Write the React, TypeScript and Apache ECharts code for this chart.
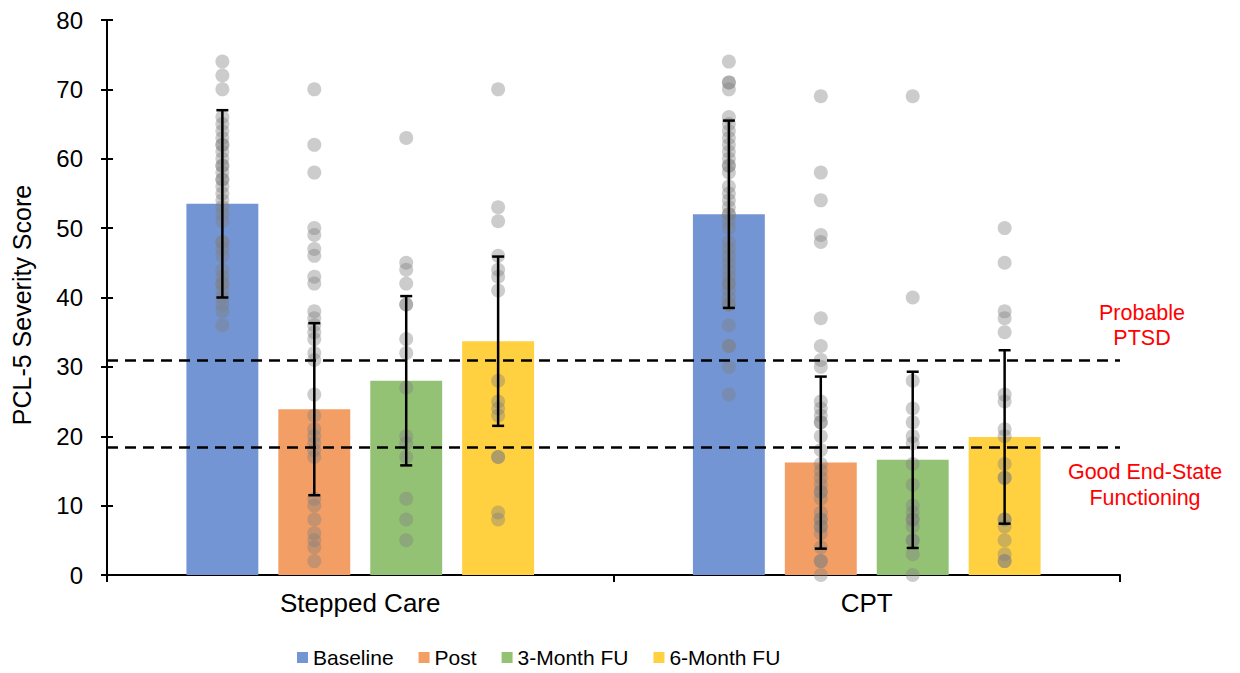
import React, { useEffect, useRef } from "react";
import * as echarts from "echarts";

// Treatment arms and assessment points
const groups = ["Stepped Care", "CPT"];
const phases = ["Baseline", "Post", "3-Month FU", "6-Month FU"];
const phaseColors = ["#7395D3", "#F29E65", "#94C275", "#FFD040"];

// Group means (bar heights) and standard deviations (error bars), per phase
const meanStepped = [53.5, 23.9, 28.0, 33.7];
const sdStepped = [13.5, 12.4, 12.2, 12.2];
const meanCPT = [52.0, 16.2, 16.6, 19.9];
const sdCPT = [13.5, 12.4, 12.7, 12.5];

// Individual participant scores
const steppedBaseline = [74, 72, 70, 66, 65, 64, 63, 62, 62, 61, 60, 59, 59, 58, 57, 57, 56, 55, 54, 53, 52, 51, 48, 48, 47, 46, 44, 43, 42, 42, 41, 40, 39, 38, 36];
const steppedPost = [70, 62, 58, 50, 49, 47, 46, 43, 42, 38, 37, 36, 35, 34, 32, 31, 26, 23, 21, 20, 19, 18, 17, 11, 10, 8, 6, 5, 4, 2];
const stepped3Month = [63, 45, 44, 42, 39, 39, 34, 32, 27, 20, 19, 17, 11, 8, 5];
const stepped6Month = [70, 53, 51, 46, 44, 43, 41, 28, 25, 24, 23, 17, 17, 9, 8];
const cptBaseline = [74, 71, 71, 70, 66, 65, 64, 63, 62, 61, 60, 59, 59, 58, 56, 55, 54, 53, 52, 52, 51, 50, 48, 47, 46, 45, 44, 43, 42, 42, 41, 40, 39, 39, 36, 33, 33, 30, 26];
const cptPost = [69, 58, 54, 49, 48, 37, 33, 31, 30, 25, 24, 23, 22, 22, 20, 18, 16, 15, 14, 13, 12, 12, 11, 9, 8, 8, 7, 7, 6, 4, 2, 2, 0];
const cpt3Month = [69, 40, 28, 24, 22, 20, 19, 16, 13, 10, 9, 8, 8, 7, 5, 5, 3, 0];
const cpt6Month = [50, 45, 38, 37, 35, 26, 25, 21, 20, 16, 14, 14, 8, 8, 7, 5, 3, 2, 2];

// Clinical cut-offs
const probablePTSD = 31;
const goodEndState = 18.4;

// Y axis ticks
const yMin = 0;
const yMax = 80;
const yStep = 10;

// Bar layout as fractions of a category band
const BAR_FRACTION = 0.142;
const GAP_RATIO = 0.278;

const scoresByGroup = [
  [steppedBaseline, steppedPost, stepped3Month, stepped6Month],
  [cptBaseline, cptPost, cpt3Month, cpt6Month],
];
const meansByGroup = [meanStepped, meanCPT];
const sdsByGroup = [sdStepped, sdCPT];

// Offset of each bar centre from its category centre, in band units
function barOffset(i: number): number {
  const n = phases.length;
  const gap = BAR_FRACTION * GAP_RATIO;
  const total = n * BAR_FRACTION + (n - 1) * gap;
  return -total / 2 + BAR_FRACTION / 2 + i * (BAR_FRACTION + gap);
}

const FONT = "'Liberation Sans', Arial, sans-serif";

export default function App() {
  const ref = useRef<HTMLDivElement>(null);

  useEffect(() => {
    if (!ref.current) return;
    const chart = echarts.init(ref.current, undefined, { renderer: "svg" });

    const barSeries = phases.map((name, i) => ({
      name,
      type: "bar",
      xAxisIndex: 0,
      yAxisIndex: 0,
      data: groups.map((_, g) => meansByGroup[g][i]),
      barWidth: `${BAR_FRACTION * 100}%`,
      barGap: `${GAP_RATIO * 100}%`,
      itemStyle: { color: phaseColors[i] },
      z: 2,
    }));

    const dots: number[][] = [];
    const bars: number[][] = [];
    groups.forEach((_, g) => {
      phases.forEach((__, i) => {
        const x = g + 0.5 + barOffset(i);
        scoresByGroup[g][i].forEach((v) => dots.push([x, v]));
        const m = meansByGroup[g][i];
        const s = sdsByGroup[g][i];
        bars.push([x, m - s, m + s]);
      });
    });

    const option = {
      animation: false,
      textStyle: { fontFamily: FONT },
      grid: { left: 107, right: 120, top: 20, bottom: 98, containLabel: false },
      legend: {
        data: phases,
        left: 297,
        top: 647,
        padding: 0,
        icon: "rect",
        itemWidth: 11,
        itemHeight: 11,
        itemGap: 25,
        textStyle: { fontSize: 21, color: "#000", fontFamily: FONT },
      },
      xAxis: [
        {
          type: "category",
          data: groups,
          axisLine: { show: true, lineStyle: { color: "#000", width: 2 } },
          axisTick: { show: true, length: 7, lineStyle: { color: "#000", width: 2 } },
          axisLabel: { fontSize: 26, color: "#000", margin: 15, fontFamily: FONT },
          splitLine: { show: false },
        },
        {
          type: "value",
          min: 0,
          max: groups.length,
          show: false,
        },
      ],
      yAxis: [
        {
          type: "value",
          min: yMin,
          max: yMax,
          interval: yStep,
          axisLine: { show: true, lineStyle: { color: "#000", width: 2 } },
          axisTick: { show: true, length: 6, inside: false, lineStyle: { color: "#000", width: 2 } },
          axisLabel: { fontSize: 24, color: "#000", margin: 24, fontFamily: FONT },
          splitLine: { show: false },
        },
        {
          type: "value",
          min: yMin,
          max: yMax,
          interval: yStep,
          position: "left",
          axisLine: { show: true, lineStyle: { color: "#000", width: 2 } },
          axisTick: { show: true, length: 6, inside: true, lineStyle: { color: "#000", width: 2 } },
          axisLabel: { show: false },
          splitLine: { show: false },
        },
      ],
      graphic: [
        {
          type: "text",
          x: 22,
          y: 305,
          rotation: Math.PI / 2,
          style: {
            text: "PCL-5 Severity Score",
            fontSize: 25,
            fontFamily: FONT,
            fill: "#000",
            align: "center",
            verticalAlign: "middle",
          },
        },
        {
          type: "text",
          x: 1142,
          y: 325,
          style: {
            text: "Probable\nPTSD",
            fontSize: 21.5,
            lineHeight: 25,
            fontFamily: FONT,
            fill: "#FF0000",
            align: "center",
            verticalAlign: "middle",
          },
        },
        {
          type: "text",
          x: 1145,
          y: 485,
          style: {
            text: "Good End-State\nFunctioning",
            fontSize: 21.5,
            lineHeight: 26,
            fontFamily: FONT,
            fill: "#FF0000",
            align: "center",
            verticalAlign: "middle",
          },
        },
      ],
      series: [
        ...barSeries,
        {
          name: "scores",
          type: "scatter",
          xAxisIndex: 1,
          yAxisIndex: 0,
          data: dots,
          symbol: "circle",
          symbolSize: 14,
          clip: false,
          itemStyle: { color: "rgba(128,128,128,0.5)" },
          z: 3,
        },
        {
          name: "cutoffs",
          type: "line",
          xAxisIndex: 1,
          yAxisIndex: 0,
          data: [],
          z: 4,
          markLine: {
            silent: true,
            symbol: "none",
            label: { show: false },
            lineStyle: { color: "#000", width: 2.5, type: [11, 7] },
            data: [{ yAxis: probablePTSD }, { yAxis: goodEndState }],
          },
        },
        {
          name: "sd",
          type: "custom",
          xAxisIndex: 1,
          yAxisIndex: 0,
          data: bars,
          encode: { x: 0, y: [1, 2] },
          z: 5,
          renderItem: (_params: any, api: any) => {
            const x = api.value(0);
            const lo = api.coord([x, api.value(1)]);
            const hi = api.coord([x, api.value(2)]);
            const half = 6;
            const style = { stroke: "#000", lineWidth: 2.5 };
            return {
              type: "group",
              children: [
                { type: "line", shape: { x1: lo[0], y1: lo[1], x2: hi[0], y2: hi[1] }, style },
                { type: "line", shape: { x1: hi[0] - half, y1: hi[1], x2: hi[0] + half, y2: hi[1] }, style },
                { type: "line", shape: { x1: lo[0] - half, y1: lo[1], x2: lo[0] + half, y2: lo[1] }, style },
              ],
            };
          },
        },
      ],
    };

    chart.setOption(option as any);
    return () => chart.dispose();
  }, []);

  return <div ref={ref} style={{ width: 1240, height: 673, margin: -8 }} />;
}
